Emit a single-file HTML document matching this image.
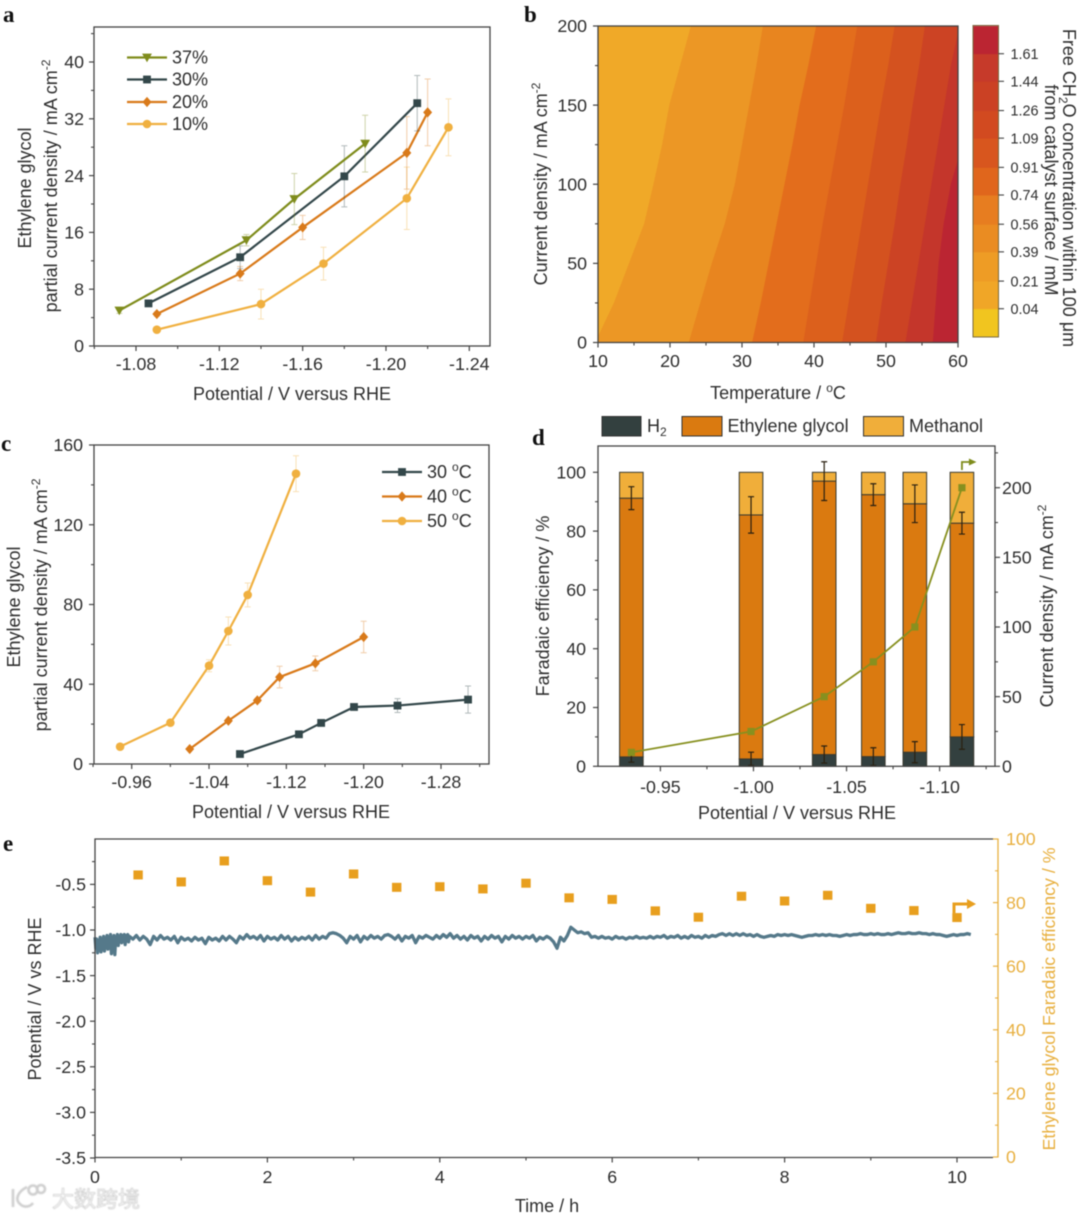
<!DOCTYPE html>
<html lang="en">
<head>
<meta charset="utf-8">
<title>Ethylene glycol electrosynthesis figure</title>
<style>
html,body{margin:0;padding:0;background:#fff;}
#fig{display:block;filter:blur(0.45px);}
text{font-family:"Liberation Sans",Arial,sans-serif;fill:#2e2e2e;}
.lab{font-family:"Liberation Serif",serif;font-weight:bold;font-size:23px;fill:#111;}
.t{font-size:18px;}
.tk{font-size:17.8px;}
.s{font-size:14.4px;}
.sup{font-size:12px;}
</style>
</head>
<body>
<svg id="fig" xmlns="http://www.w3.org/2000/svg" width="1080" height="1218" viewBox="0 0 1080 1218">
<defs>
<clipPath id="clip-b"><rect x="598" y="26" width="360" height="316.5"/></clipPath>
<filter id="wm-blur" x="-20%" y="-40%" width="140%" height="180%"><feGaussianBlur stdDeviation="0.45"/></filter>
</defs>
<rect width="1080" height="1218" fill="#fff"/>

<text class="lab" x="3" y="22">a</text>
<text class="lab" x="524" y="22">b</text>
<text class="lab" x="1" y="451">c</text>
<text class="lab" x="532" y="445">d</text>
<text class="lab" x="3" y="851">e</text>

<g id="panel-a">
<text class="t" x="292" y="400" text-anchor="middle">Potential / V versus RHE</text>
<text class="t" transform="translate(31,188) rotate(-90)" text-anchor="middle">Ethylene glycol</text>
<text class="t" transform="translate(57,186) rotate(-90)" text-anchor="middle">partial current density / mA cm<tspan class="sup" dy="-7">-2</tspan></text>
</g>

<g id="panel-b">
<g id="b-contours" clip-path="url(#clip-b)"></g>
<text class="t" x="778" y="399" text-anchor="middle">Temperature / <tspan class="sup" dy="-7">o</tspan><tspan dy="7">C</tspan></text>
<text class="t" transform="translate(547,184) rotate(-90)" text-anchor="middle">Current density / mA cm<tspan class="sup" dy="-7">-2</tspan></text>
<text class="t" transform="translate(1063,188) rotate(90)" text-anchor="middle">Free CH<tspan class="sup" dy="4">2</tspan><tspan dy="-4">O concentration within 100 μm</tspan></text>
<text class="t" transform="translate(1045,190) rotate(90)" text-anchor="middle">from catalyst surface / mM</text>
</g>

<g id="panel-c">
<text class="t" x="291" y="818" text-anchor="middle">Potential / V versus RHE</text>
<text class="t" transform="translate(20,607) rotate(-90)" text-anchor="middle">Ethylene glycol</text>
<text class="t" transform="translate(47,605) rotate(-90)" text-anchor="middle">partial current density / mA cm<tspan class="sup" dy="-7">-2</tspan></text>
</g>

<g id="panel-d">
<text class="t" x="797" y="819" text-anchor="middle">Potential / V versus RHE</text>
<text class="t" transform="translate(549,606) rotate(-90)" text-anchor="middle">Faradaic efficiency / %</text>
<text class="t" transform="translate(1053,606) rotate(-90)" text-anchor="middle">Current density / mA cm<tspan class="sup" dy="-7">-2</tspan></text>
<rect x="602" y="416.5" width="39" height="19.5" fill="#33403f" stroke="#333"/>
<text class="t" x="647" y="432">H<tspan class="sup" dy="4">2</tspan></text>
<rect x="682" y="416.5" width="40" height="19.5" fill="#da7a10" stroke="#333"/>
<text class="t" x="727.5" y="432">Ethylene glycol</text>
<rect x="863.5" y="416.5" width="40" height="19.5" fill="#f0ae3a" stroke="#333"/>
<text class="t" x="909" y="432">Methanol</text>
</g>

<g id="panel-e">
<text class="t" x="547" y="1212" text-anchor="middle">Time / h</text>
<text class="t" transform="translate(41,999) rotate(-90)" text-anchor="middle">Potential / V vs RHE</text>
<text transform="translate(1055,999) rotate(-90)" text-anchor="middle" style="fill:#e8b040;font-size:17.8px">Ethylene glycol Faradaic efficiency / %</text>
</g>

<g id="watermark">
<g filter="url(#wm-blur)" fill="none" stroke="#cfcfcf" stroke-width="2.6">
<path d="M13 1189 L13 1207 M27 1187 C17 1192 15 1200 20 1204 C24 1208 30 1207 33 1203"/>
<circle cx="33" cy="1190" r="4.5"/>
<circle cx="41" cy="1189" r="4"/>
</g>
<text x="52" y="1207" font-size="22" style="font-family:'Liberation Sans','Noto Sans CJK SC',sans-serif;fill:#ffffff;stroke:#c8c8c8;stroke-width:0.7px" filter="url(#wm-blur)">大数跨境</text>
</g>
</svg>

<script>
/* ---------- panel a data ---------- */
const aXTickValues = [-1.08, -1.12, -1.16, -1.20, -1.24];
const aXTickLabels = ['-1.08', '-1.12', '-1.16', '-1.20', '-1.24'];
const aXMinor = [-1.06, -1.10, -1.14, -1.18, -1.22];
const aYTickValues = [0, 8, 16, 24, 32, 40];
const aYTickLabels = ['0', '8', '16', '24', '32', '40'];
const aYMinor = [4, 12, 20, 28, 36, 44];
const a37X = [-1.072, -1.133, -1.156, -1.19];
const a37Y = [5.0, 14.9, 20.7, 28.5];
const a37Err = [0.4, 0.8, 3.6, 4.0];
const a30X = [-1.086, -1.13, -1.18, -1.215];
const a30Y = [6.0, 12.5, 23.9, 34.2];
const a30Err = [0.3, 1.6, 4.3, 3.9];
const a20X = [-1.09, -1.13, -1.16, -1.21, -1.22];
const a20Y = [4.5, 10.2, 16.7, 27.2, 32.9];
const a20Err = [0.3, 1.0, 1.7, 5.1, 4.7];
const a10X = [-1.09, -1.14, -1.17, -1.21, -1.23];
const a10Y = [2.3, 5.9, 11.6, 20.8, 30.8];
const a10Err = [0.3, 2.1, 2.3, 4.4, 4.0];
const aLegendLabels = ['37%', '30%', '20%', '10%'];

/* ---------- panel b data ---------- */
const bXTickValues = [10, 20, 30, 40, 50, 60];
const bXMinor = [15, 25, 35, 45, 55];
const bYTickValues = [0, 50, 100, 150, 200];
const bYMinor = [25, 75, 125, 175];
const bDensity = [0, 25, 50, 75, 100, 125, 150, 175, 200];
const bLevel1 = [9.6, 12.2, 14.3, 16.4, 17.7, 18.9, 19.9, 21.4, 22.9];
const bLevel2 = [22.6, 24.2, 25.8, 27.6, 29, 30, 31, 32, 32.9];
const bLevel3 = [31.4, 32.6, 33.7, 34.8, 35.9, 37, 38, 39.2, 40.3];
const bLevel4 = [38.5, 39.4, 40.3, 41.2, 42.2, 43.2, 44.2, 45.1, 46];
const bLevel5 = [43.9, 44.8, 45.7, 46.6, 47.5, 48.4, 49.3, 50.3, 51.2];
const bLevel6 = [48.6, 49.4, 50.3, 51.2, 52, 52.9, 53.7, 54.6, 55.4];
const bLevel7 = [52.7, 53.6, 54.5, 55.4, 56.3, 57.2, 58.1, 59, 60.2];
const bLevel8 = [56.5, 56.9, 57.3, 58, 59, 60.6, 62, 63, 64];
const bBandColors = ['#f0a928', '#ec9725', '#e8851f', '#e36d1c', '#dc601c', '#d4521f', '#cc4324', '#c4362b', '#bb2532'];
const cbLevels = [-0.13, 0.04, 0.21, 0.39, 0.56, 0.74, 0.91, 1.09, 1.26, 1.44, 1.61, 1.78];
const cbColors = ['#f1c51f', '#f0a627', '#ee9c25', '#ea8c22', '#e77d20', '#e0661c', '#d8561e', '#d24a20', '#cb4124', '#c63a2a', '#bb2532'];
const cbTickValues = [0.04, 0.21, 0.39, 0.56, 0.74, 0.91, 1.09, 1.26, 1.44, 1.61];
const cbTickLabels = ['0.04', '0.21', '0.39', '0.56', '0.74', '0.91', '1.09', '1.26', '1.44', '1.61'];

/* ---------- panel c data ---------- */
const cXTickValues = [-0.96, -1.04, -1.12, -1.20, -1.28];
const cXTickLabels = ['-0.96', '-1.04', '-1.12', '-1.20', '-1.28'];
const cXMinor = [-0.92, -1.00, -1.08, -1.16, -1.24, -1.32];
const cYTickValues = [0, 40, 80, 120, 160];
const cYMinor = [20, 60, 100, 140];
const c30X = [-1.072, -1.133, -1.156, -1.19, -1.235, -1.308];
const c30Y = [5, 14.9, 20.6, 28.6, 29.3, 32.3];
const c30Err = [0.5, 0.8, 0.8, 0.8, 3.5, 6.8];
const c40X = [-1.02, -1.06, -1.09, -1.113, -1.15, -1.20];
const c40Y = [7.5, 21.7, 31.9, 43.6, 50.5, 63.7];
const c40Err = [0.5, 0.8, 1, 5.4, 3.7, 7.9];
const c50X = [-0.948, -1.0, -1.04, -1.06, -1.08, -1.13];
const c50Y = [8.7, 20.7, 49.3, 66.7, 84.8, 145.6];
const c50Err = [0.5, 0.5, 3, 7, 6, 9];
const cLegendUnit = 'C';
const cLegendTemps = ['30', '40', '50'];

/* ---------- panel d data ---------- */
const dXTickValues = [-0.95, -1.00, -1.05, -1.10];
const dXTickLabels = ['-0.95', '-1.00', '-1.05', '-1.10'];
const dXMinor = [-0.975, -1.025, -1.075, -1.125];
const dYTickValues = [0, 20, 40, 60, 80, 100];
const dYMinor = [10, 30, 50, 70, 90];
const dY2TickValues = [0, 50, 100, 150, 200];
const dY2Minor = [25, 75, 125, 175, 225];
const dPotential = [-0.9344, -0.9987, -1.038, -1.0644, -1.0867, -1.112];
const dH2 = [3.2, 2.5, 4.0, 3.3, 4.8, 10.0];
const dEthylene = [88.0, 83.0, 93.0, 89.1, 84.5, 72.7];
const dMethanol = [8.8, 14.5, 3.0, 7.6, 10.7, 17.3];
const dH2Err = [1.8, 2.3, 2.9, 3.0, 3.6, 4.2];
const dEthyleneErr = [3.9, 6.2, 6.6, 3.7, 6.4, 3.7];
const dCurrent = [10, 25, 50, 75, 100, 200];

/* ---------- panel e data ---------- */
const eXTickValues = [0, 2, 4, 6, 8, 10];
const eXMinor = [1, 3, 5, 7, 9];
const eYTickValues = [-0.5, -1.0, -1.5, -2.0, -2.5, -3.0, -3.5];
const eYTickLabels = ['-0.5', '-1.0', '-1.5', '-2.0', '-2.5', '-3.0', '-3.5'];
const eYMinor = [-0.25, -0.75, -1.25, -1.75, -2.25, -2.75, -3.25];
const eY2TickValues = [0, 20, 40, 60, 80, 100];
const eY2Minor = [10, 30, 50, 70, 90];
const eTime = [0.5, 1, 1.5, 2, 2.5, 3, 3.5, 4, 4.5, 5, 5.5, 6, 6.5, 7, 7.5, 8, 8.5, 9, 9.5, 10];
const eFaradaic = [88.7, 86.5, 93.1, 86.9, 83.3, 89.0, 84.8, 85.0, 84.3, 86.1, 81.5, 81.0, 77.4, 75.4, 82.0, 80.5, 82.3, 78.2, 77.5, 75.3];
const traceEarlyStart = 0, traceEarlyStep = 0.01;
const traceEarlyV = [-1.08,-1.20,-1.10,-1.25,-1.12,-1.22,-1.08,-1.24,-1.13,-1.19,-1.07,-1.23,-1.10,-1.18,-1.06,-1.21,-1.09,-1.16,-1.05,-1.26,-1.08,-1.15,-1.06,-1.27,-1.09,-1.13,-1.05,-1.17,-1.07,-1.12,-1.05,-1.14,-1.06,-1.11,-1.05,-1.16,-1.06,-1.10,-1.05,-1.13];
const traceStart = 0.4, traceStep = 0.04;
const traceV = [
-1.07,-1.10,-1.06,-1.11,-1.07,-1.10,-1.16,-1.07,-1.11,-1.06,-1.10,-1.08,-1.11,-1.07,-1.14,-1.08,-1.11,-1.09,-1.12,-1.08,-1.11,-1.09,-1.15,-1.08,-1.11,
-1.09,-1.12,-1.07,-1.11,-1.07,-1.10,-1.14,-1.07,-1.10,-1.05,-1.09,-1.07,-1.10,-1.06,-1.12,-1.07,-1.10,-1.08,-1.11,-1.06,-1.10,-1.07,-1.12,-1.08,-1.11,
-1.08,-1.10,-1.07,-1.11,-1.06,-1.10,-1.07,-1.09,-1.04,-1.03,-1.04,-1.06,-1.09,-1.14,-1.07,-1.10,-1.06,-1.13,-1.07,-1.10,-1.06,-1.09,-1.07,-1.10,-1.06,
-1.05,-1.07,-1.10,-1.06,-1.12,-1.07,-1.09,-1.06,-1.14,-1.07,-1.09,-1.06,-1.08,-1.10,-1.06,-1.09,-1.05,-1.08,-1.04,-1.09,-1.06,-1.10,-1.07,-1.11,-1.06,
-1.09,-1.07,-1.12,-1.07,-1.10,-1.06,-1.09,-1.07,-1.13,-1.07,-1.10,-1.06,-1.09,-1.07,-1.10,-1.07,-1.09,-1.06,-1.12,-1.08,-1.10,-1.07,-1.09,-1.13,-1.20,
-1.08,-1.12,-1.06,-0.97,-1.00,-1.03,-1.02,-1.04,-1.03,-1.08,-1.07,-1.09,-1.07,-1.09,-1.08,-1.10,-1.07,-1.09,-1.08,-1.10,-1.08,-1.09,-1.07,-1.09,-1.08,
-1.09,-1.07,-1.09,-1.07,-1.08,-1.06,-1.09,-1.07,-1.08,-1.06,-1.09,-1.07,-1.09,-1.06,-1.08,-1.07,-1.09,-1.06,-1.08,-1.06,-1.07,-1.05,-1.04,-1.06,-1.04,
-1.06,-1.04,-1.06,-1.04,-1.06,-1.05,-1.07,-1.05,-1.07,-1.08,-1.07,-1.06,-1.07,-1.05,-1.06,-1.05,-1.06,-1.05,-1.06,-1.07,-1.08,-1.07,-1.06,-1.06,-1.05,
-1.06,-1.05,-1.06,-1.05,-1.06,-1.06,-1.07,-1.06,-1.05,-1.06,-1.05,-1.05,-1.04,-1.05,-1.05,-1.04,-1.05,-1.04,-1.05,-1.05,-1.04,-1.05,-1.04,-1.03,-1.04,
-1.04,-1.03,-1.04,-1.04,-1.03,-1.04,-1.04,-1.05,-1.04,-1.05,-1.05,-1.06,-1.07,-1.06,-1.05,-1.06,-1.05,-1.05,-1.04,-1.05
];

/* ---------- helpers ---------- */
const NS = 'http://www.w3.org/2000/svg';
const AXIS = '#444';
const C_OLIVE = '#7f8c1c', C_DARK = '#33474a', C_ORANGE = '#d97a1a', C_YELLOW = '#f0b040', C_E = '#e89f1e', C_EAX = '#e8b040', C_LINE_D = '#87901f';
function linear(d0, d1, r0, r1) { return v => r0 + (v - d0) / (d1 - d0) * (r1 - r0); }
function mk(parent, tag, attrs) {
  const el = document.createElementNS(NS, tag);
  for (const k in attrs) el.setAttribute(k, attrs[k]);
  parent.appendChild(el);
  return el;
}
function axisX(g, sx, y, vals, labels, minor, labelY, dir, color) {
  vals.forEach((v, i) => {
    const el = mk(g, 'line', {x1: sx(v), x2: sx(v), y1: y, y2: y + 5 * dir, stroke: color, 'stroke-width': 1.2});
    
    
    const tx = mk(g, 'text', {x: sx(v), y: labelY, 'text-anchor': 'middle', class: 'tk'});
    tx.textContent = labels[i];
    
    
  });
  minor.forEach(v => {
    const el = mk(g, 'line', {x1: sx(v), x2: sx(v), y1: y, y2: y + 3 * dir, stroke: color, 'stroke-width': 1.1});
    
    
  });
}
function axisY(g, sy, x, vals, labels, minor, labelX, anchor, dir, color) {
  vals.forEach((v, i) => {
    const el = mk(g, 'line', {x1: x, x2: x + 5 * dir, y1: sy(v), y2: sy(v), stroke: color, 'stroke-width': 1.2});
    
    
    const tx = mk(g, 'text', {x: labelX, y: sy(v) + 6.2, 'text-anchor': anchor, class: 'tk'});
    tx.textContent = labels[i];
    if (color !== AXIS) tx.style.fill = color;
    
    
  });
  minor.forEach(v => {
    const el = mk(g, 'line', {x1: x, x2: x + 3 * dir, y1: sy(v), y2: sy(v), stroke: color, 'stroke-width': 1.1});
    
    
  });
}
function frame(g, x0, y0, x1, y1) {
  const el = mk(g, 'rect', {x: x0, y: y0, width: x1 - x0, height: y1 - y0, fill: 'none', stroke: AXIS, 'stroke-width': 1.3});
  
  
}
function marker(g, type, x, y, r, color) {
  let el;
  if (type === 'square') el = mk(g, 'rect', {x: x - r, y: y - r, width: 2 * r, height: 2 * r, fill: color});
  else if (type === 'circle') el = mk(g, 'circle', {cx: x, cy: y, r: r + 0.4, fill: color});
  else if (type === 'diamond') el = mk(g, 'polygon', {points: `${x},${y - r - 1.2} ${x + r + 0.6},${y} ${x},${y + r + 1.2} ${x - r - 0.6},${y}`, fill: color});
  else el = mk(g, 'polygon', {points: `${x - r - 1},${y - r} ${x + r + 1},${y - r} ${x},${y + r + 0.8}`, fill: color});
  
  
}
const MR = 3.9;
function series(g, sx, sy, xs, ys, errs, color, type) {
  xs.forEach((v, i) => {
    const px = sx(v), top = sy(ys[i] + errs[i]), bot = sy(ys[i] - errs[i]);
    const e = mk(g, 'path', {d: `M${px - 3} ${top}H${px + 3}M${px} ${top}V${bot}M${px - 3} ${bot}H${px + 3}`, fill: 'none', stroke: color, 'stroke-opacity': 0.38, 'stroke-width': 1});
    
    
  });
  const ln = mk(g, 'polyline', {points: xs.map((v, i) => sx(v) + ',' + sy(ys[i])).join(' '), fill: 'none', stroke: color, 'stroke-width': 2.2});
  
  
  xs.forEach((v, i) => marker(g, type, sx(v), sy(ys[i]), MR, color));
}
function legendRow(g, x0, x1, y, color, type, textX) {
  const ln = mk(g, 'line', {x1: x0, x2: x1, y1: y, y2: y, stroke: color, 'stroke-width': 2.2});
  
  
  marker(g, type, (x0 + x1) / 2, y, MR, color);
  const tx = mk(g, 'text', {x: textX, y: y + 6.2, class: 't'});
  
  
  return tx;
}

/* ---------- panel a ---------- */
(function () {
  const g = document.getElementById('panel-a');
  const sx = linear(-1.08, -1.24, 136, 469.3), sy = linear(0, 40, 346, 62);
  series(g, sx, sy, a10X, a10Y, a10Err, C_YELLOW, 'circle');
  series(g, sx, sy, a20X, a20Y, a20Err, C_ORANGE, 'diamond');
  series(g, sx, sy, a30X, a30Y, a30Err, C_DARK, 'square');
  series(g, sx, sy, a37X, a37Y, a37Err, C_OLIVE, 'triangle');
  frame(g, 94, 27, 490, 346);
  axisX(g, sx, 346, aXTickValues, aXTickLabels, aXMinor, 370, 1, AXIS);
  axisY(g, sy, 94, aYTickValues, aYTickLabels, aYMinor, 84, 'end', -1, AXIS);
  legendRow(g, 127, 167, 57.5, C_OLIVE, 'triangle', 172).textContent = aLegendLabels[0];
  legendRow(g, 127, 167, 79.5, C_DARK, 'square', 172).textContent = aLegendLabels[1];
  legendRow(g, 127, 167, 102, C_ORANGE, 'diamond', 172).textContent = aLegendLabels[2];
  legendRow(g, 127, 167, 124, C_YELLOW, 'circle', 172).textContent = aLegendLabels[3];
})();

/* ---------- panel b ---------- */
(function () {
  const g = document.getElementById('panel-b');
  const cg = document.getElementById('b-contours');
  const sx = linear(10, 60, 598, 958), sy = linear(0, 200, 342.5, 26);
  const base = mk(cg, 'rect', {x: 598, y: 26, width: 360, height: 316.5, fill: bBandColors[0]});
  
  
  [bLevel1, bLevel2, bLevel3, bLevel4, bLevel5, bLevel6, bLevel7, bLevel8].forEach((lvl, k) => {
    const pts = lvl.map((t, i) => sx(t) + ',' + sy(bDensity[i]));
    pts.push(sx(70) + ',' + sy(bDensity[bDensity.length - 1]));
    pts.push(sx(70) + ',' + sy(bDensity[0]));
    const band = mk(cg, 'polygon', {points: pts.join(' '), fill: bBandColors[k + 1]});
    
    
  });
  frame(g, 598, 26, 958, 342.5);
  axisX(g, sx, 342.5, bXTickValues, bXTickValues.map(String), bXMinor, 367, 1, AXIS);
  axisY(g, sy, 598, bYTickValues, bYTickValues.map(String), bYMinor, 587, 'end', -1, AXIS);
  const sc = linear(0.04, 1.61, 308.7, 53.7);
  cbColors.forEach((c, i) => {
    const y0 = sc(cbLevels[i + 1]), y1 = sc(cbLevels[i]);
    const seg = mk(g, 'rect', {x: 973, y: y0, width: 25.5, height: y1 - y0 + 0.4, fill: c});
    
    
  });
  const cbf = mk(g, 'rect', {x: 973, y: 25.5, width: 25.5, height: 311.5, fill: 'none', stroke: '#7a6a40', 'stroke-width': 1});
  
  
  cbTickValues.forEach((v, i) => {
    const tk = mk(g, 'line', {x1: 998.5, x2: 1004, y1: sc(v), y2: sc(v), stroke: AXIS, 'stroke-width': 1.1});
    
    
    const tx = mk(g, 'text', {x: 1010.5, y: sc(v) + 5.2, class: 's'});
    tx.textContent = cbTickLabels[i];
    
    
  });
})();

/* ---------- panel c ---------- */
(function () {
  const g = document.getElementById('panel-c');
  const sx = linear(-0.96, -1.28, 131.7, 441), sy = linear(0, 160, 764, 445);
  series(g, sx, sy, c50X, c50Y, c50Err, C_YELLOW, 'circle');
  series(g, sx, sy, c40X, c40Y, c40Err, C_ORANGE, 'diamond');
  series(g, sx, sy, c30X, c30Y, c30Err, C_DARK, 'square');
  frame(g, 94, 445, 489, 764);
  axisX(g, sx, 764, cXTickValues, cXTickLabels, cXMinor, 788, 1, AXIS);
  axisY(g, sy, 94, cYTickValues, cYTickValues.map(String), cYMinor, 83, 'end', -1, AXIS);
  [[472, C_DARK, 'square'], [496.5, C_ORANGE, 'diamond'], [521, C_YELLOW, 'circle']].forEach((row, i) => {
    const tx = legendRow(g, 382, 422, row[0], row[1], row[2], 427);
    tx.textContent = cLegendTemps[i] + ' ';
    const sup = mk(tx, 'tspan', {class: 'sup', dy: -7});
    sup.textContent = 'o';
    const unit = mk(tx, 'tspan', {dy: 7});
    unit.textContent = cLegendUnit;
  });
})();

/* ---------- panel d ---------- */
(function () {
  const g = document.getElementById('panel-d');
  const sx = linear(-0.95, -1.10, 660.4, 939.6), sy = linear(0, 100, 766.3, 472.3), sy2 = linear(0, 200, 766.3, 487.7);
  const halfW = 11.8;
  dPotential.forEach((p, i) => {
    const cx = sx(p);
    const b0 = dH2[i], b1 = b0 + dEthylene[i], b2 = b1 + dMethanol[i];
    const h = mk(g, 'rect', {x: cx - halfW, y: sy(b0), width: 2 * halfW, height: sy(0) - sy(b0), fill: '#33403f', stroke: '#3a3a30', 'stroke-width': 1});
    
    
    const e = mk(g, 'rect', {x: cx - halfW, y: sy(b1), width: 2 * halfW, height: sy(b0) - sy(b1), fill: '#da7a10', stroke: '#3a3a30', 'stroke-width': 1});
    
    
    const m = mk(g, 'rect', {x: cx - halfW, y: sy(b2), width: 2 * halfW, height: sy(b1) - sy(b2), fill: '#f0ae3a', stroke: '#3a3a30', 'stroke-width': 1});
    
    
    const ee = mk(g, 'path', {d: `M${cx - 3} ${sy(b1 + dEthyleneErr[i])}H${cx + 3}M${cx} ${sy(b1 + dEthyleneErr[i])}V${sy(b1 - dEthyleneErr[i])}M${cx - 3} ${sy(b1 - dEthyleneErr[i])}H${cx + 3}`, fill: 'none', stroke: '#2a2010', 'stroke-width': 1.2});
    
    
    const he = mk(g, 'path', {d: `M${cx - 3} ${sy(b0 + dH2Err[i])}H${cx + 3}M${cx} ${sy(b0 + dH2Err[i])}V${sy(Math.max(b0 - dH2Err[i], 0.3))}M${cx - 3} ${sy(Math.max(b0 - dH2Err[i], 0.3))}H${cx + 3}`, fill: 'none', stroke: '#2a2010', 'stroke-width': 1.2});
    
    
  });
  const ln = mk(g, 'polyline', {points: dPotential.map((p, i) => sx(p) + ',' + sy2(dCurrent[i])).join(' '), fill: 'none', stroke: C_LINE_D, 'stroke-width': 1.8});
  
  
  dPotential.forEach((p, i) => {
    const pt = mk(g, 'rect', {x: sx(p) - 3.6, y: sy2(dCurrent[i]) - 3.6, width: 7.2, height: 7.2, fill: C_LINE_D});
    
    
  });
  frame(g, 598, 446, 995, 766.3);
  axisX(g, sx, 766.3, dXTickValues, dXTickLabels, dXMinor, 793, 1, AXIS);
  axisY(g, sy, 598, dYTickValues, dYTickValues.map(String), dYMinor, 586, 'end', -1, AXIS);
  axisY(g, sy2, 995, dY2TickValues, dY2TickValues.map(String), dY2Minor, 1002, 'start', 1, AXIS);
  const ax = sx(dPotential[dPotential.length - 1]);
  const arrow = mk(g, 'path', {d: `M${ax} 470V462H${ax + 8}`, fill: 'none', stroke: C_OLIVE, 'stroke-width': 1.8});
  
  
  const head = mk(g, 'polygon', {points: `${ax + 7},458.5 ${ax + 14.5},462 ${ax + 7},465.5`, fill: C_OLIVE});
  
  
})();

/* ---------- panel e ---------- */
(function () {
  const g = document.getElementById('panel-e');
  const sx = linear(0, 10, 95, 957), sy = linear(-1.0, -3.5, 930, 1158), sy2 = linear(0, 100, 1157, 839);
  const pts = [];
  traceEarlyV.forEach((v, i) => pts.push(sx(traceEarlyStart + i * traceEarlyStep) + ',' + sy(v)));
  traceV.forEach((v, i) => pts.push(sx(traceStart + i * traceStep) + ',' + sy(v)));
  const tr = mk(g, 'polyline', {points: pts.join(' '), fill: 'none', stroke: '#55798a', 'stroke-width': 3.3, 'stroke-linejoin': 'round'});
  
  
  eTime.forEach((t, i) => {
    const sq = mk(g, 'rect', {x: sx(t) - 4.7, y: sy2(eFaradaic[i]) - 4.5, width: 9.4, height: 9, fill: C_E});
    
    
  });
  const fr = mk(g, 'path', {d: 'M993 839H95V1157.5H993', fill: 'none', stroke: AXIS, 'stroke-width': 1.3});
  
  
  axisX(g, sx, 1157.5, eXTickValues, eXTickValues.map(String), eXMinor, 1183, 1, AXIS);
  axisY(g, sy, 95, eYTickValues, eYTickLabels, eYMinor, 86, 'end', -1, AXIS);
  const ra = mk(g, 'line', {x1: 998, x2: 998, y1: 838.5, y2: 1157.5, stroke: C_EAX, 'stroke-width': 1.3});
  
  
  axisY(g, sy2, 998, eY2TickValues, eY2TickValues.map(String), eY2Minor, 1006, 'start', -1, C_EAX);
  const ax = sx(eTime[eTime.length - 1]);
  const arrow = mk(g, 'path', {d: `M${ax - 3} 913V904H${ax + 11}`, fill: 'none', stroke: C_E, 'stroke-width': 3});
  
  
  const head = mk(g, 'polygon', {points: `${ax + 10},899 ${ax + 19},904 ${ax + 10},909`, fill: C_E});
  
  
})();
</script>
</body>
</html>
